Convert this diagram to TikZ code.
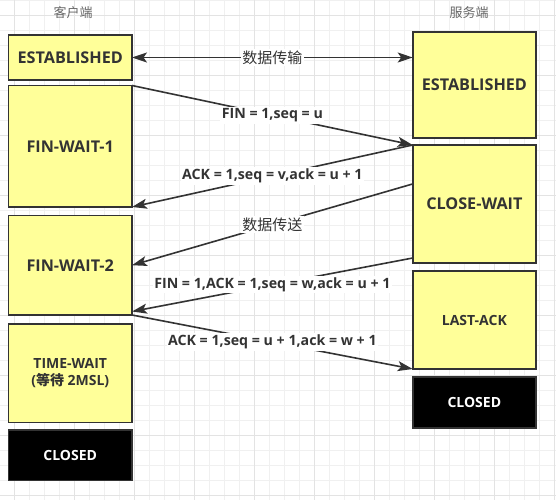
\documentclass[tikz,border=0pt]{standalone}
\usepackage{fontspec}
\setmainfont{Open Sans}
\newfontfamily\cjk{Noto Sans CJK SC}
\usetikzlibrary{arrows.meta,calc}
\definecolor{boxfill}{HTML}{FFFF99}
\definecolor{ink}{HTML}{333333}
\definecolor{gridminor}{HTML}{F0F0F0}
\definecolor{gridmajor}{HTML}{E3E3E3}
\definecolor{headgray}{HTML}{666666}
\tikzset{
  tip/.style={Stealth[length=15pt,width=10pt,inset=3.5pt]},
  state/.style={draw=ink, line width=1.6pt, fill=boxfill, text=ink, font=\bfseries\fontsize{16.2}{19}\selectfont, align=center, inner sep=0pt, outer sep=0pt},
  statesmall/.style={state, font=\bfseries\fontsize{14}{17}\selectfont},
  closedbox/.style={statesmall, fill=black, text=white},
  conn/.style={draw=ink, line width=1.6pt, -{Stealth[length=15pt,width=10pt,inset=3.5pt]}},
  connboth/.style={draw=ink, line width=1.6pt, {Stealth[length=15pt,width=10pt,inset=3.5pt]}-{Stealth[length=15pt,width=10pt,inset=3.5pt]}},
  elabel/.style={fill=white, text=ink, font=\bfseries\fontsize{14.2}{16}\selectfont, inner sep=1.5pt},
  clabel/.style={fill=white, text=ink, font=\cjk\fontsize{15}{17}\selectfont, inner sep=1.5pt},
  head/.style={text=headgray, font=\cjk\fontsize{13}{15}\selectfont, inner sep=0pt},
  gminor/.style={draw=gridminor, line width=1pt},
  gmajor/.style={draw=gridmajor, line width=1pt}
}
\begin{document}
\begin{tikzpicture}[x=1pt,y=-1pt]
\useasboundingbox (0,0) rectangle (556,500);
\fill[white] (0,0) rectangle (556,500);
% grid
\foreach \xx in {-0.7,14.3,...,560} \draw[gminor] (\xx,0) -- (\xx,500);
\foreach \yy in {0.3,15.3,...,505} \draw[gminor] (0,\yy) -- (556,\yy);
\foreach \xx in {14.3,74.3,...,560} \draw[gmajor] (\xx,0) -- (\xx,500);
\foreach \yy in {15.3,75.3,...,505} \draw[gmajor] (0,\yy) -- (556,\yy);

% headers
\node[head] (hc) at (73,12.7) {客户端};
\node[head] (hs) at (469,12.3) {服务端};

% client states
\node[state, minimum width=123.5pt, minimum height=45pt] (LE) at (70.25,57.5) {ESTABLISHED};
\node[state, minimum width=123.5pt, minimum height=121.5pt] (FW1) at (70.25,146.25) {FIN-WAIT-1};
\node[state, minimum width=123.5pt, minimum height=99.5pt] (FW2) at (70.25,265.25) {FIN-WAIT-2};
\node[statesmall, minimum width=123.5pt, minimum height=98.6pt] (TW) at (70.25,373) {TIME-WAIT\\({\cjk 等待} 2MSL)};
\node[closedbox, minimum width=123.5pt, minimum height=50.7pt] (LC) at (70.25,455.3) {CLOSED};

% server states
\node[state, minimum width=123.3pt, minimum height=106pt] (RE) at (474.35,85) {ESTABLISHED};
\node[state, minimum width=123.3pt, minimum height=118pt] (CW) at (474.35,204) {CLOSE-WAIT};
\node[statesmall, minimum width=123.3pt, minimum height=98pt] (LA) at (474.35,320) {LAST-ACK};
\node[closedbox, minimum width=123.3pt, minimum height=51pt] (RC) at (474.35,402.5) {CLOSED};

% connectors
\draw[connboth] (LE.east) -- node[clabel] {数据传输} (LE.east -| RE.west);
\draw[conn] (FW1.north east) -- node[elabel] {FIN = 1,seq = u} (CW.north west);
\draw[conn] (CW.north west) -- node[elabel] {ACK = 1,seq = v,ack = u + 1} (FW1.south east);
\coordinate (c4s) at ($(CW.north west)!0.33!(CW.south west)$);
\draw[conn] (c4s) -- node[clabel] {数据传送} (FW2.east);
\coordinate (c5s) at ([yshift=5pt]CW.south west);
\coordinate (c5e) at ([yshift=3.5pt]FW2.south east);
\draw[conn] (c5s) -- node[elabel] {FIN = 1,ACK = 1,seq = w,ack = u + 1} (c5e);
\draw[conn] (FW2.south east) -- node[elabel] {ACK = 1,seq = u + 1,ack = w + 1} (LA.south west);
\end{tikzpicture}
\end{document}
